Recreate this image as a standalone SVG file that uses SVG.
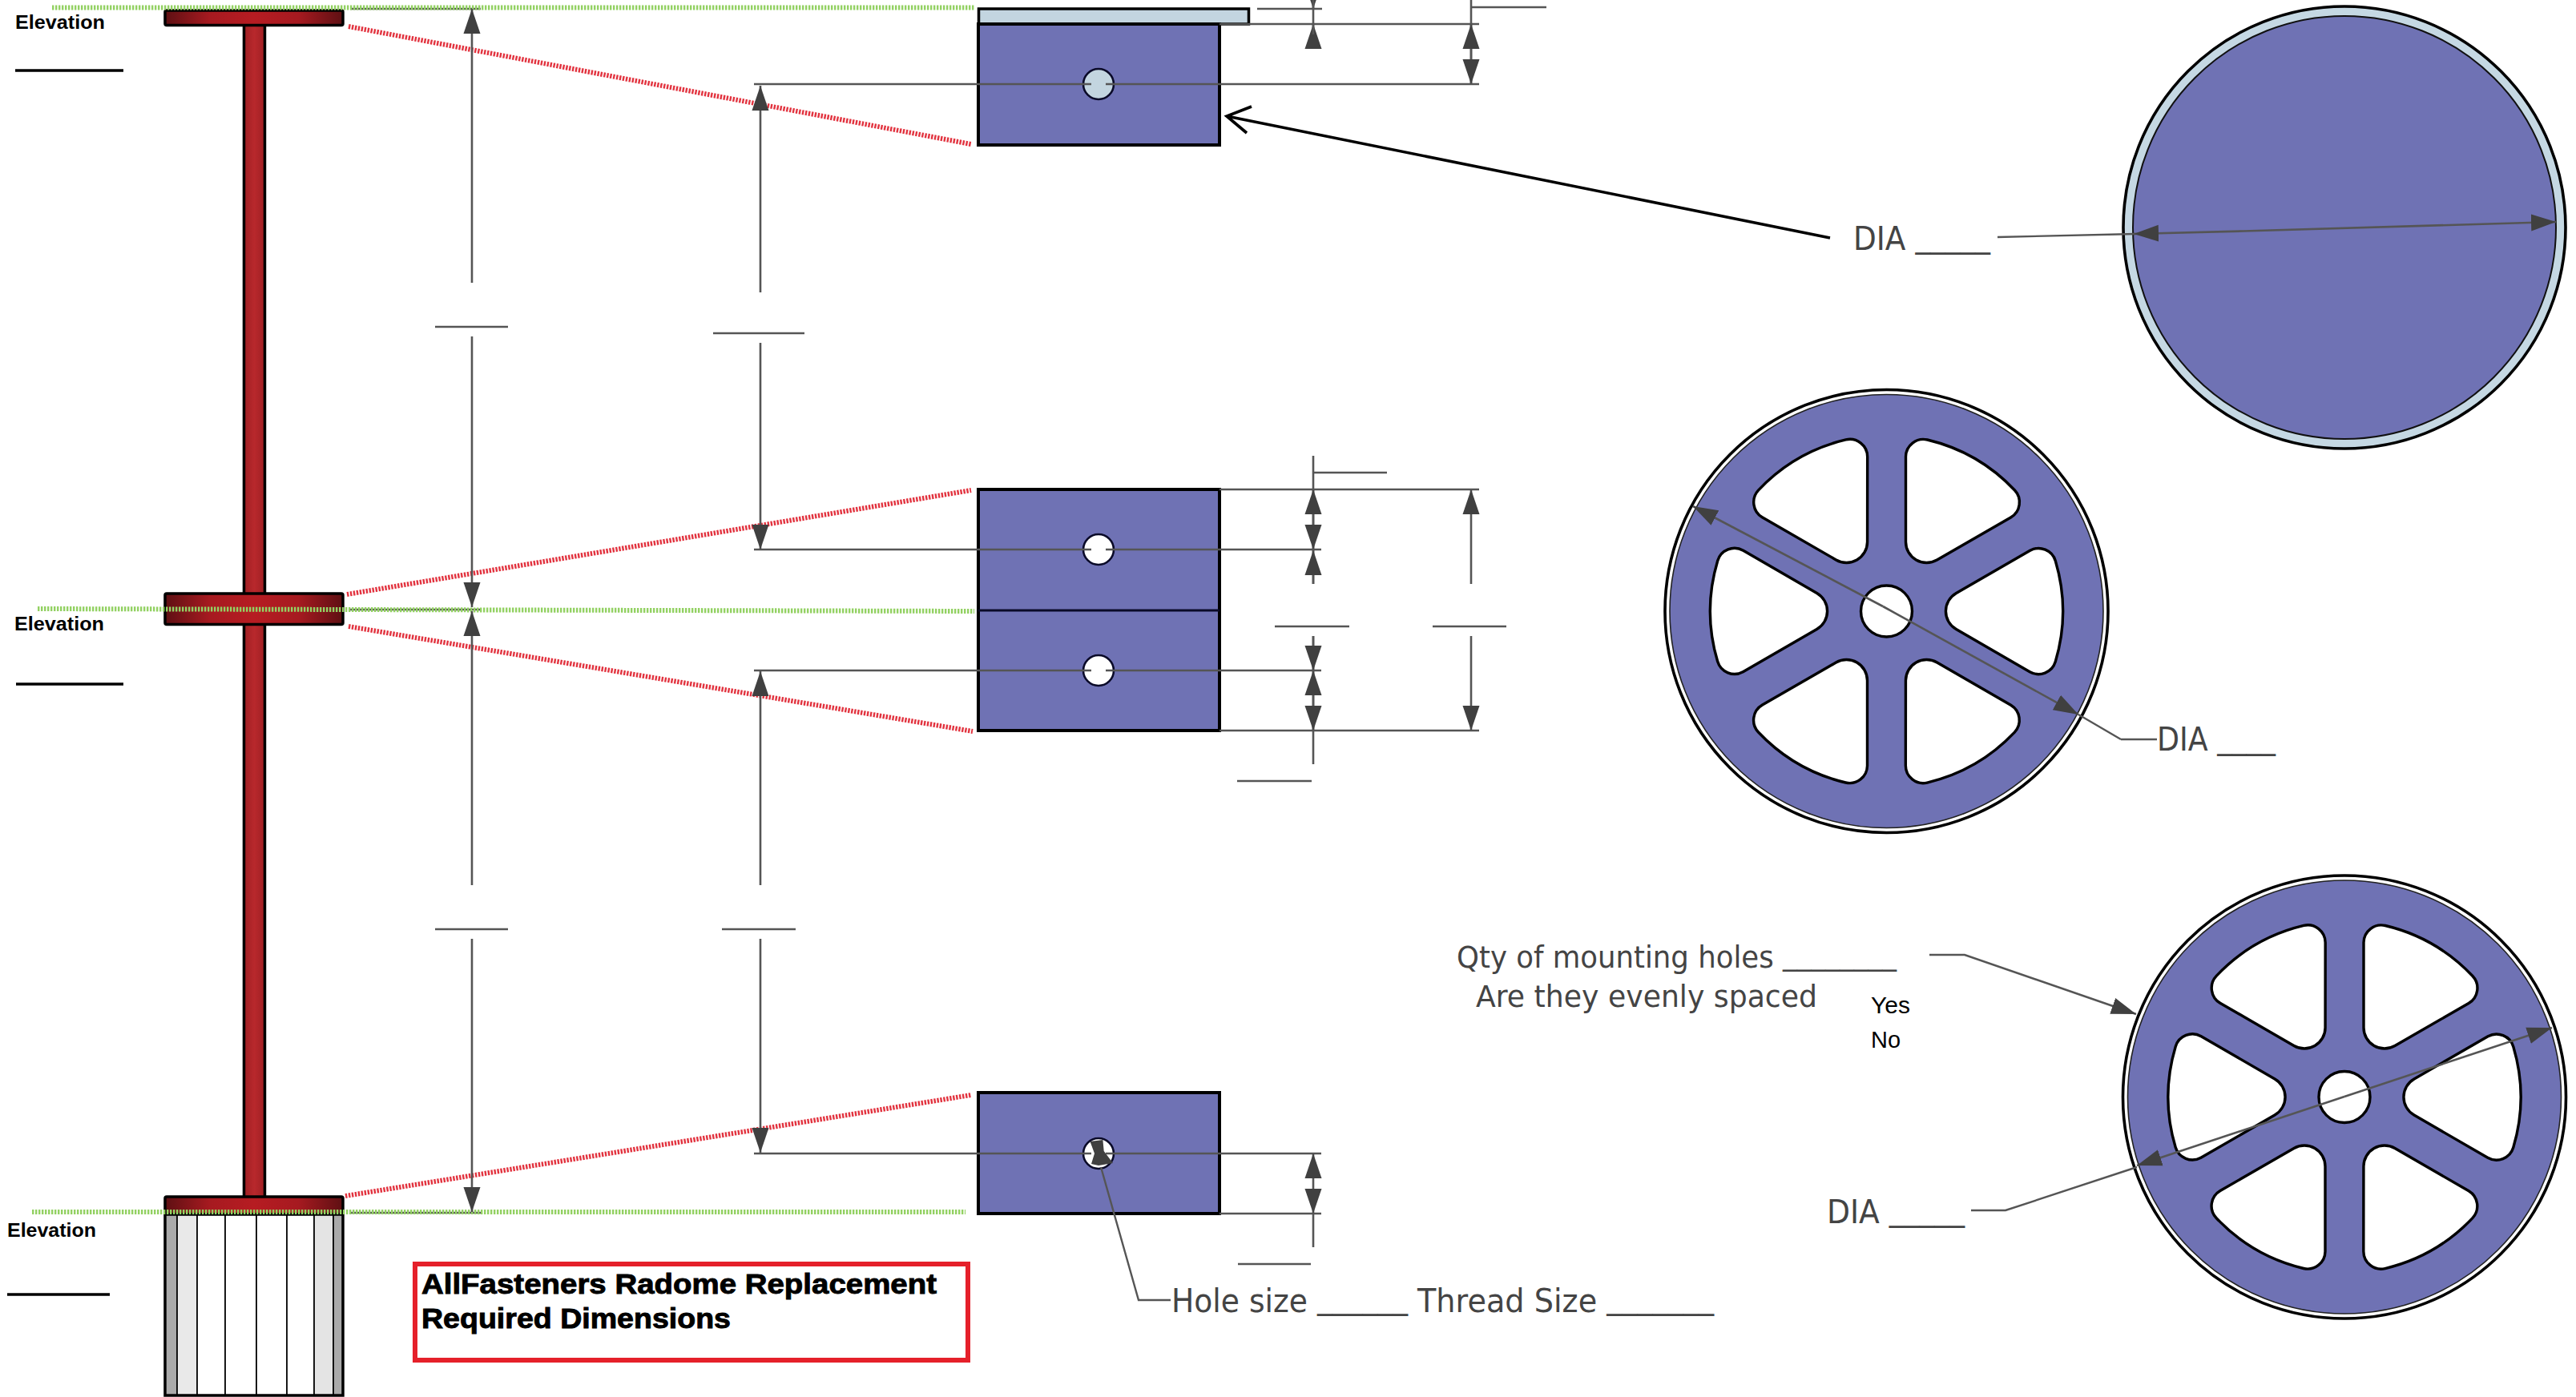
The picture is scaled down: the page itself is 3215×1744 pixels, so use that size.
<svg xmlns="http://www.w3.org/2000/svg" xmlns:xlink="http://www.w3.org/1999/xlink" width="3215" height="1744" viewBox="0 0 3215 1744">
<style>
.dim{stroke:#555;stroke-width:2.6;fill:none}
.ar{stroke:#555;stroke-width:2.6;fill:none;marker-end:url(#ah)}
.ls{stroke:#555;stroke-width:2.4;fill:none}
.green{stroke:#93d163;stroke-width:6;stroke-dasharray:2.4 1.6;fill:none}
.red{stroke:#e2333f;stroke-width:6;stroke-dasharray:2.4 1.6;fill:none}
.ul{stroke:#000;stroke-width:3.4}
.part{fill:#6f72b4;stroke:#000;stroke-width:4}
.hole{stroke:#0a0a28;stroke-width:2.6}
.flange{fill:url(#fl);stroke:#000;stroke-width:3.5}
.elev{font:bold 23px "Liberation Sans",Arial,sans-serif;fill:#000}
.lbl{font:40px "DejaVu Sans",Verdana,sans-serif;fill:#444}
.lbl2{font:37px "DejaVu Sans",Verdana,sans-serif;fill:#444}
.yn{font:30px "Liberation Sans",Arial,sans-serif;fill:#000}
.title{font:bold 35px "Liberation Sans",Arial,sans-serif;fill:#000;stroke:#000;stroke-width:.9}
.win{fill:#fff;stroke:#000;stroke-width:3.4}
</style>
<defs>
<marker id="ah" markerUnits="userSpaceOnUse" markerWidth="34" markerHeight="24" refX="31" refY="11" orient="auto"><path d="M0,0.5 L31,11 L0,21.5 Z" fill="#404040"/></marker>
<linearGradient id="fl"><stop offset="0" stop-color="#5e1013"/><stop offset=".25" stop-color="#a61a20"/><stop offset=".5" stop-color="#b61c22"/><stop offset=".75" stop-color="#a61a20"/><stop offset="1" stop-color="#5e1013"/></linearGradient>
<linearGradient id="pl"><stop offset="0" stop-color="#a02024"/><stop offset=".5" stop-color="#b8282c"/><stop offset="1" stop-color="#a02024"/></linearGradient>
<path id="w" class="win" d="M24,-193 A22,22 0 0 1 51,-214 A220,220 0 0 1 160,-151 A22,22 0 0 1 155,-117 L63,-64 A26,26 0 0 1 24,-86.6 Z"/>
<g id="wheel">
<circle r="276.5" fill="#fff" stroke="#000" stroke-width="3.6"/>
<circle r="270.5" fill="#6f72b4" stroke="#222" stroke-width="1.6"/>
<use href="#w"/><use href="#w" transform="rotate(60)"/><use href="#w" transform="rotate(120)"/><use href="#w" transform="rotate(180)"/><use href="#w" transform="rotate(240)"/><use href="#w" transform="rotate(300)"/>
<circle r="32" class="win"/>
</g>
</defs>
<rect width="3215" height="1744" fill="#fff"/>

<g id="tower">
<rect x="304.5" y="30" width="26" height="1465" fill="url(#pl)" stroke="#000" stroke-width="3.5"/>
<rect class="flange" x="206" y="13" width="222" height="18.5" rx="2"/>
<rect class="flange" x="206" y="741" width="222" height="38.5" rx="2"/>
<rect class="flange" x="206" y="1494" width="222" height="22" rx="2"/>
</g>
<g id="base">
<rect x="206" y="1516" width="222" height="226" fill="#fff"/>
<rect x="206" y="1516" width="15" height="226" fill="#aaa"/>
<rect x="221" y="1516" width="25" height="226" fill="#e9e9e9"/>
<rect x="392" y="1516" width="24" height="226" fill="#e4e4e4"/>
<rect x="416" y="1516" width="12" height="226" fill="#aaa"/>
<g stroke="#000" stroke-width="1.8"><path d="M221,1516V1742M246,1516V1742M281,1516V1742M320,1516V1742M358,1516V1742M392,1516V1742M416,1516V1742"/></g>
<rect x="206" y="1516" width="222" height="226" fill="none" stroke="#000" stroke-width="3.5"/>
</g>

<g id="part-top">
<rect x="1221.5" y="11" width="337" height="19" fill="#c3d5e0" stroke="#000" stroke-width="3.5"/>
<rect class="part" x="1221" y="30" width="301" height="151"/>
<circle class="hole" cx="1371" cy="105" r="19" fill="#c3d5e0"/>
</g>
<g id="part-middle">
<rect class="part" x="1221" y="611" width="301" height="301"/>
<line x1="1221" y1="762" x2="1522" y2="762" stroke="#0a0a28" stroke-width="3"/>
<circle class="hole" cx="1371" cy="686" r="19" fill="#fff"/>
<circle class="hole" cx="1371" cy="837" r="19" fill="#fff"/>
</g>
<g id="part-bottom">
<rect class="part" x="1221" y="1364" width="301" height="151"/>
<circle class="hole" cx="1371" cy="1440" r="19" fill="#fff"/>
<path d="M1360.5,1425 L1376.4,1423 L1377.7,1437 L1389,1452 L1371,1455 L1362,1453 L1366,1440 Z" fill="#404040"/>
</g>

<g id="wheel-solid">
<circle cx="2926" cy="284" r="276" fill="#c5d8e3" stroke="#000" stroke-width="3.6"/>
<circle cx="2926" cy="284" r="264" fill="#6f72b4" stroke="#111" stroke-width="2"/>
</g>
<g id="wheel-middle"><use href="#wheel" x="2354.5" y="763"/></g>
<g id="wheel-bottom"><use href="#wheel" x="2926" y="1369.5"/></g>

<g id="title-box">
<rect x="518" y="1578" width="690" height="120" fill="#fff" stroke="#e5202a" stroke-width="6"/>
<text class="title" x="526" y="1615" textLength="643" lengthAdjust="spacingAndGlyphs">AllFasteners Radome Replacement</text>
<text class="title" x="526" y="1658" textLength="386" lengthAdjust="spacingAndGlyphs">Required Dimensions</text>
</g>

<g id="connectors">
<line class="ul" x1="19" y1="88" x2="154" y2="88"/>
<line class="ul" x1="20" y1="854" x2="154" y2="854"/>
<line class="ul" x1="9" y1="1616" x2="137" y2="1616"/>
<path class="dim" d="M437,11H600M437,761H600M437,1514H600"/>
<line class="green" x1="65" y1="9.5" x2="1216" y2="9.5"/>
<line class="green" x1="47" y1="760" x2="1216" y2="763"/>
<line class="green" x1="40" y1="1513" x2="1205" y2="1513"/>
<line class="red" x1="435" y1="33" x2="1212" y2="180"/>
<line class="red" x1="433" y1="742" x2="1212" y2="612"/>
<line class="red" x1="435" y1="782" x2="1214" y2="913"/>
<line class="red" x1="431" y1="1493" x2="1212" y2="1367"/>
<line class="ar" x1="589" y1="353" x2="589" y2="11"/>
<line class="dim" x1="543" y1="408" x2="634" y2="408"/>
<line class="ar" x1="589" y1="420" x2="589" y2="758"/>
<line class="ar" x1="589" y1="1105" x2="589" y2="763"/>
<line class="dim" x1="543" y1="1160" x2="634" y2="1160"/>
<line class="ar" x1="589" y1="1172" x2="589" y2="1513"/>
<path class="dim" d="M941,105H1362M1380,105H1846M941,686H1362M1380,686H1649M941,837H1362M1380,837H1649M941,1440H1362M1380,1440H1649"/>
<line class="ar" x1="949" y1="365" x2="949" y2="107"/>
<line class="dim" x1="890" y1="416" x2="1004" y2="416"/>
<line class="ar" x1="949" y1="428" x2="949" y2="686"/>
<line class="ar" x1="949" y1="1105" x2="949" y2="838"/>
<line class="dim" x1="901" y1="1160" x2="993" y2="1160"/>
<line class="ar" x1="949" y1="1172" x2="949" y2="1439"/>
<path class="dim" d="M1569,11H1650M1522,30H1846M1836,9H1930M1522,611H1846M1522,912H1846"/>
<line class="ar" x1="1639" y1="-20" x2="1639" y2="11"/>
<line class="ar" x1="1639" y1="43" x2="1639" y2="30"/>
<line class="dim" x1="1639" y1="0" x2="1639" y2="43"/>
<line class="dim" x1="1836" y1="0" x2="1836" y2="105"/>
<line class="ar" x1="1836" y1="68" x2="1836" y2="30"/>
<line class="ar" x1="1836" y1="68" x2="1836" y2="105"/>
<line class="dim" x1="1639" y1="569" x2="1639" y2="729"/>
<line class="dim" x1="1639" y1="590" x2="1731" y2="590"/>
<line class="ar" x1="1639" y1="648" x2="1639" y2="611"/>
<line class="ar" x1="1639" y1="648" x2="1639" y2="686"/>
<line class="ar" x1="1639" y1="729" x2="1639" y2="687"/>
<line class="dim" x1="1591" y1="782" x2="1684" y2="782"/>
<line class="dim" x1="1788" y1="782" x2="1880" y2="782"/>
<line class="dim" x1="1639" y1="794" x2="1639" y2="954"/>
<line class="ar" x1="1639" y1="794" x2="1639" y2="837"/>
<line class="ar" x1="1639" y1="875" x2="1639" y2="837"/>
<line class="ar" x1="1639" y1="875" x2="1639" y2="912"/>
<line class="dim" x1="1544" y1="975" x2="1637" y2="975"/>
<line class="ar" x1="1836" y1="729" x2="1836" y2="611"/>
<line class="ar" x1="1836" y1="794" x2="1836" y2="912"/>
<line class="dim" x1="1522" y1="1515" x2="1649" y2="1515"/>
<line class="ar" x1="1639" y1="1478" x2="1639" y2="1440"/>
<line class="ar" x1="1639" y1="1478" x2="1639" y2="1515"/>
<line class="dim" x1="1639" y1="1515" x2="1639" y2="1557"/>
<line class="dim" x1="1545" y1="1578" x2="1636" y2="1578"/>
<path class="ls" d="M1374,1457L1421,1623H1461"/>
<path d="M2284,297L1531,145M1562,133L1531,145L1556,166" fill="none" stroke="#000" stroke-width="3.6"/>
<path class="ls" d="M2493,296L2665,292"/>
<line class="ar" x1="2800" y1="288.5" x2="2663" y2="292"/>
<line class="ar" x1="2800" y1="288.5" x2="3190" y2="277"/>
<path class="ls" d="M2647,923H2692M2594,892L2647,923"/>
<line class="ar" x1="2350" y1="757" x2="2113" y2="632"/>
<line class="ar" x1="2350" y1="757" x2="2594" y2="892"/>
<path class="ar" d="M2408,1192H2452L2666,1266"/>
<path class="ls" d="M2460,1511H2503L2667,1457"/>
<line class="ar" x1="2926" y1="1369" x2="2667" y2="1455"/>
<line class="ar" x1="2926" y1="1369" x2="3185" y2="1283"/>
</g>

<g id="labels">
<text class="elev" x="19" y="36" textLength="112" lengthAdjust="spacingAndGlyphs">Elevation</text>
<text class="elev" x="18" y="787" textLength="112" lengthAdjust="spacingAndGlyphs">Elevation</text>
<text class="elev" x="9" y="1544" textLength="111" lengthAdjust="spacingAndGlyphs">Elevation</text>
<text class="lbl" x="1462" y="1638" textLength="295" lengthAdjust="spacingAndGlyphs">Hole size <tspan dy="-5">______</tspan></text>
<text class="lbl" x="1769" y="1638" textLength="370" lengthAdjust="spacingAndGlyphs">Thread Size <tspan dy="-5">_______</tspan></text>
<text class="lbl" x="2313" y="312" textLength="171" lengthAdjust="spacingAndGlyphs">DIA <tspan dy="-4">_____</tspan></text>
<text class="lbl" x="2692" y="937" textLength="148" lengthAdjust="spacingAndGlyphs">DIA <tspan dy="-3">____</tspan></text>
<text class="lbl" x="2280" y="1527" textLength="172" lengthAdjust="spacingAndGlyphs">DIA <tspan dy="-4">_____</tspan></text>
<text class="lbl2" x="1818" y="1208" textLength="549" lengthAdjust="spacingAndGlyphs">Qty of mounting holes <tspan dy="-4">________</tspan></text>
<text class="lbl2" x="1842" y="1257" textLength="426" lengthAdjust="spacingAndGlyphs">Are they evenly spaced</text>
<text class="yn" x="2335" y="1265" textLength="49" lengthAdjust="spacingAndGlyphs">Yes</text>
<text class="yn" x="2335" y="1308" textLength="37" lengthAdjust="spacingAndGlyphs">No</text>
</g>
</svg>
